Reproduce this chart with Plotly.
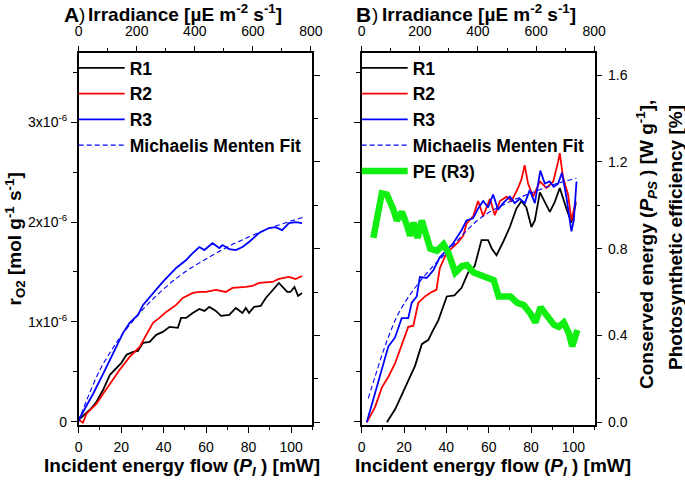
import numpy as np
import plotly.graph_objects as go

# --------------------------------------------------------------- #
#### Data ####
# --------------------------------------------------------------- #
# Panel A : r_O2 in 1e-6 mol g-1 s-1 vs incident energy flow [mW]
a_r1_x = [0, 5.3, 8.4, 11.5, 14.7, 17.8, 20.1, 22.5, 25.6, 27.9, 30.3, 33.4, 36.5, 39.6,
          42.8, 46.7, 48.2, 50.6, 53.7, 56.8, 59.2, 61.5, 64.6, 67.0, 70.9, 74.0, 77.1,
          78.7, 80.2, 82.6, 85.7, 88.1, 91.2, 94.3, 98.2, 99.7, 101.6, 103.3, 105.2]
a_r1_y = [0.02, 0.12, 0.20, 0.32, 0.47, 0.54, 0.59, 0.67, 0.70, 0.71, 0.79, 0.80, 0.87, 0.90,
          0.95, 0.94, 1.04, 1.04, 1.09, 1.13, 1.11, 1.15, 1.11, 1.06, 1.07, 1.14, 1.09,
          1.14, 1.09, 1.15, 1.16, 1.24, 1.32, 1.39, 1.30, 1.30, 1.35, 1.26, 1.29]

a_r2_x = [0, 2, 3.7, 8.4, 11.5, 14.7, 19.3, 24.0, 28.7, 31.8, 35.0, 38.0, 41.2, 45.9, 49.0,
          53.7, 56.8, 59.9, 64.6, 69.3, 72.4, 78.7, 81.8, 84.9, 91.2, 94.3, 99.0, 102.1, 105.2]
a_r2_y = [0.02, -0.01, 0.08, 0.18, 0.28, 0.38, 0.52, 0.65, 0.75, 0.87, 0.99, 1.04, 1.10, 1.17,
          1.24, 1.29, 1.30, 1.30, 1.32, 1.30, 1.34, 1.35, 1.36, 1.39, 1.40, 1.43, 1.45, 1.43, 1.46]

a_r3_x = [0, 6.8, 11.5, 14.7, 17.8, 20.9, 24.0, 27.9, 30.3, 35.0, 39.6, 45.9, 50.6, 53.7,
          56.8, 59.2, 63.0, 66.2, 67.7, 70.9, 74.0, 77.1, 80.2, 84.9, 89.6, 92.7, 95.8,
          99.0, 102.1, 105.2]
a_r3_y = [0.02, 0.28, 0.48, 0.62, 0.76, 0.89, 0.99, 1.07, 1.17, 1.29, 1.40, 1.54, 1.62, 1.69,
          1.75, 1.72, 1.79, 1.74, 1.77, 1.73, 1.72, 1.75, 1.80, 1.89, 1.94, 1.95, 1.92,
          1.99, 2.00, 1.99]

a_fit_x = [0, 2, 5, 10, 15, 20, 30, 40, 50, 60, 70, 80, 90, 100, 106]
a_fit_y = [0.0, 0.12, 0.28, 0.52, 0.70, 0.86, 1.12, 1.33, 1.50, 1.63, 1.75, 1.85, 1.94, 2.01, 2.05]

# Panel B : conserved energy P_PS [W g-1] and PE [%] vs incident energy flow [mW]
b_r1_x = [11.9, 15.8, 20.5, 25.2, 28.4, 31.5, 33.5, 36.2, 40.2, 43.8, 47.2, 50.3, 53.4,
          56.6, 59.7, 61.5, 63.7, 66.8, 70.0, 73.1, 75.5, 77.8, 80.2, 81.8, 84.2, 86.5,
          88.9, 91.2, 93.6, 96.7, 99.1, 101.2]
b_r1_y = [0.0, 0.06, 0.16, 0.26, 0.36, 0.38, 0.42, 0.47, 0.58, 0.585, 0.62, 0.69, 0.72,
          0.84, 0.84, 0.80, 0.77, 0.83, 0.90, 0.985, 1.02, 0.99, 0.90, 0.93, 1.06, 1.015,
          0.97, 1.015, 1.08, 0.985, 0.92, 1.01]

b_r2_x = [2.4, 6.3, 9.5, 12.6, 15.7, 18.9, 22.0, 24.4, 26.7, 29.9, 33.0, 35.3, 36.9, 40.1,
          42.5, 45.6, 48.0, 49.5, 52.7, 55.0, 57.4, 60.6, 62.9, 65.3, 68.5, 70.8, 73.9,
          75.5, 77.0, 78.6, 81.0, 84.2, 87.3, 90.5, 92.8, 93.6, 95.1, 97.5, 99.1, 101.2]
b_r2_y = [0.0, 0.07, 0.16, 0.21, 0.27, 0.36, 0.44, 0.445, 0.55, 0.58, 0.60, 0.61, 0.71, 0.78,
          0.80, 0.83, 0.86, 0.915, 0.95, 1.02, 0.95, 1.03, 0.955, 1.02, 1.04, 1.02, 1.08,
          1.12, 1.185, 1.10, 1.04, 1.11, 1.08, 1.11, 1.20, 1.24, 1.13, 1.05, 0.93, 1.02]

b_r3_x = [2.4, 6.3, 9.5, 12.6, 15.7, 18.9, 22.0, 23.6, 26.0, 27.5, 30.7, 33.8, 36.9, 40.9,
          43.2, 47.2, 49.5, 52.6, 55.0, 57.4, 59.7, 62.1, 64.4, 66.8, 70.0, 72.3, 74.7,
          77.1, 79.4, 81.8, 84.4, 86.5, 88.8, 90.7, 92.8, 94.6, 96.7, 99.1, 100.2, 101.5]
b_r3_y = [0.0, 0.13, 0.24, 0.35, 0.39, 0.48, 0.48, 0.55, 0.58, 0.67, 0.665, 0.70, 0.76, 0.80,
          0.825, 0.885, 0.93, 0.94, 0.985, 1.02, 0.99, 1.05, 0.98, 1.01, 1.04, 1.01, 1.03,
          1.01, 1.07, 1.01, 1.16, 1.10, 1.11, 1.085, 1.10, 1.15, 1.04, 0.88, 0.93, 1.11]

b_fit_x = [3.1, 6.3, 11.0, 17.3, 25.2, 33.8, 40.9, 46.4, 55.9, 68.5, 81.0, 92.0, 101.5]
b_fit_y = [0.11, 0.21, 0.35, 0.50, 0.62, 0.72, 0.79, 0.85, 0.94, 1.01, 1.06, 1.10, 1.125]

pe_x = [5.5, 7.1, 9.5, 11.9, 13.4, 15.0, 16.6, 19.0, 21.3, 22.9, 24.5, 26.4, 28.4, 30.8,
        32.4, 35.5, 38.7, 41.0, 44.2, 47.4, 49.7, 52.9, 56.1, 59.2, 62.4, 64.7, 67.1,
        70.3, 73.5, 76.6, 79.8, 82.1, 84.5, 87.7, 90.8, 93.1, 95.5, 97.9, 99.5, 101.9]
pe_y = [0.85, 0.95, 1.055, 1.05, 1.02, 0.98, 0.93, 0.97, 0.91, 0.86, 0.92, 0.85, 0.93, 0.855,
        0.80, 0.79, 0.82, 0.78, 0.69, 0.72, 0.725, 0.69, 0.68, 0.67, 0.655, 0.58, 0.58,
        0.58, 0.55, 0.54, 0.50, 0.46, 0.53, 0.49, 0.45, 0.44, 0.46, 0.41, 0.35, 0.425]

# tick labels
x_ticks = [0, 20, 40, 60, 80, 100]
irr_ticks = [0, 200, 400, 600, 800]
ro2_ticks = [0, 1e-6, 2e-6, 3e-6]
ro2_text = ["0", "1x10<sup>-6</sup>", "2x10<sup>-6</sup>", "3x10<sup>-6</sup>"]
pps_ticks = [0, 0.4, 0.8, 1.2, 1.6]
pps_text = ["0.0", "0.4", "0.8", "1.2", "1.6"]

FONT = "Liberation Sans, Arial, sans-serif"
W, H = 685, 483

# --------------------------------------------------------------- #
#### Geometry (pixels -> paper) ####
# --------------------------------------------------------------- #
dom_a = [78.7 / W, 312.3 / W]
dom_b = [361.7 / W, 594.5 / W]
dom_y = [1 - 425 / H, 1 - 53.3 / H]
ro2_range = [-0.033e-6, 3.691e-6]
pps_range = [-0.0124, 1.7005]

fig = go.Figure()


def axis_holder(xa, ya):
    # empty trace so that the extra (overlaying) axes get drawn
    fig.add_trace(go.Scatter(x=[], y=[], xaxis=xa, yaxis=ya, showlegend=False,
                             hoverinfo="skip"))


# --------------------------------------------------------------- #
#### Panel A ####
# --------------------------------------------------------------- #
scale = 1e-6
for xs, ys, name, color in [(a_r1_x, a_r1_y, "R1", "black"),
                            (a_r2_x, a_r2_y, "R2", "#ff0000"),
                            (a_r3_x, a_r3_y, "R3", "#0000ff")]:
    fig.add_trace(go.Scatter(x=xs, y=np.array(ys) * scale, name=name, mode="lines",
                             line=dict(color=color, width=1.8),
                             xaxis="x", yaxis="y", legend="legend"))
fig.add_trace(go.Scatter(x=a_fit_x, y=np.array(a_fit_y) * scale, name="Michaelis Menten Fit",
                         mode="lines", line=dict(color="#0000ff", width=1.1, dash="5px,3px"),
                         line_shape="spline", xaxis="x", yaxis="y", legend="legend"))
axis_holder("x3", "y")
axis_holder("x", "y3")

# --------------------------------------------------------------- #
#### Panel B ####
# --------------------------------------------------------------- #
axis_holder("x2", "y2")
axis_holder("x4", "y2")
for xs, ys, name, color in [(b_r1_x, b_r1_y, "R1", "black"),
                            (b_r2_x, b_r2_y, "R2", "#ff0000"),
                            (b_r3_x, b_r3_y, "R3", "#0000ff")]:
    fig.add_trace(go.Scatter(x=xs, y=ys, name=name, mode="lines",
                             line=dict(color=color, width=1.8),
                             xaxis="x2", yaxis="y4", legend="legend2"))
fig.add_trace(go.Scatter(x=b_fit_x, y=b_fit_y, name="Michaelis Menten Fit", mode="lines",
                         line=dict(color="#0000ff", width=1.1, dash="5px,3px"),
                         line_shape="spline", xaxis="x2", yaxis="y4", legend="legend2"))
fig.add_trace(go.Scatter(x=pe_x, y=pe_y, name="PE (R3)", mode="lines",
                         line=dict(color="#11ee11", width=6.5),
                         xaxis="x2", yaxis="y4", legend="legend2"))

# --------------------------------------------------------------- #
#### Axes ####
# --------------------------------------------------------------- #
tickfont = dict(family=FONT, size=14, color="black")
common = dict(showline=True, linecolor="black", linewidth=1.5, ticks="outside",
              tickcolor="black", tickwidth=1.3, ticklen=6, showgrid=False,
              zeroline=False, tickfont=tickfont, fixedrange=True, automargin=False)


def minor(step):
    return dict(ticks="outside", ticklen=3.5, dtick=step, tick0=0,
                tickcolor="black", tickwidth=1.2)


def xaxis(domain, anchor):
    return dict(domain=domain, anchor=anchor, range=[0, 110], tickvals=x_ticks,
                minor=minor(10), ticklabelstandoff=2, mirror=True, **common)


def topaxis(over, anchor, maxval):
    return dict(overlaying=over, anchor=anchor, side="top", range=[0, maxval],
                tickvals=irr_ticks, minor=minor(100), ticklabelstandoff=4, **common)


def leftaxis(anchor, labels):
    return dict(domain=dom_y, anchor=anchor, range=ro2_range, tickvals=ro2_ticks,
                ticktext=ro2_text, showticklabels=labels, minor=minor(0.5e-6),
                ticklabelstandoff=1, mirror=True, **common)


def rightaxis(over, anchor, labels):
    return dict(overlaying=over, anchor=anchor, side="right", range=pps_range,
                tickvals=pps_ticks, ticktext=pps_text, showticklabels=labels,
                minor=minor(0.2), ticklabelstandoff=3, **common)


fig.update_layout(
    xaxis=xaxis(dom_a, "y"),
    xaxis2=xaxis(dom_b, "y2"),
    xaxis3=topaxis("x", "y", 805),
    xaxis4=topaxis("x2", "y2", 801),
    yaxis=leftaxis("x", True),
    yaxis2=leftaxis("x2", False),
    yaxis3=rightaxis("y", "x", False),
    yaxis4=rightaxis("y2", "x2", True),
)

# --------------------------------------------------------------- #
#### Legends ####
# --------------------------------------------------------------- #
leg = dict(xanchor="left", yanchor="top", bgcolor="rgba(0,0,0,0)", borderwidth=0,
           font=dict(family=FONT, size=17.5, color="black", weight="bold"),
           itemwidth=46, tracegroupgap=0)
fig.update_layout(
    legend=dict(x=dom_a[0] - 5 / W, y=1 - 50 / H, **leg),
    legend2=dict(x=dom_b[0] - 5 / W, y=1 - 50 / H, **leg),
)

# --------------------------------------------------------------- #
#### Titles (annotations) ####
# --------------------------------------------------------------- #
bold19 = dict(family=FONT, size=19, color="black", weight="bold")
ann = []


def px_ann(text, x, y, xanchor="center", angle=0, font=bold19):
    ann.append(dict(text=text, x=x / W, y=1 - y / H, xref="paper", yref="paper",
                    xanchor=xanchor, yanchor="middle", showarrow=False,
                    textangle=angle, font=font))


irr = "Irradiance [µE m<sup>-2</sup> s<sup>-1</sup>]"
ief = "Incident energy flow (<i>P</i><sub><i>I</i></sub> ) [mW]"
big = dict(family=FONT, size=21, color="black", weight="bold")
thin = dict(family=FONT, size=19, color="black")

px_ann("A", 62, 14, "left", font=big)
px_ann(")", 77, 14, "left", font=thin)
px_ann(irr, 86, 13, "left")
px_ann("B", 354, 14, "left", font=big)
px_ann(")", 370, 14, "left", font=thin)
px_ann(irr, 380, 13, "left")

px_ann(ief, 182, 467)
px_ann(ief, 493, 467)

px_ann("r<sub>O2</sub> [mol g<sup>-1</sup> s<sup>-1</sup>]", 14.5, 239, angle=-90)
px_ann("Conserved energy (<i>P</i><sub><i>PS</i></sub> ) [W g<sup>-1</sup>],", 646, 245, angle=-90)
px_ann("Photosynthetic efficiency [%]", 676, 238, angle=-90)

fig.update_layout(
    annotations=ann,
    width=W, height=H,
    margin=dict(l=0, r=0, t=0, b=0),
    paper_bgcolor="white", plot_bgcolor="white",
    font=dict(family=FONT, color="black"),
)

fig.write_html("out.html", config={"displayModeBar": False},
               post_script="document.body.style.margin='0px';")
